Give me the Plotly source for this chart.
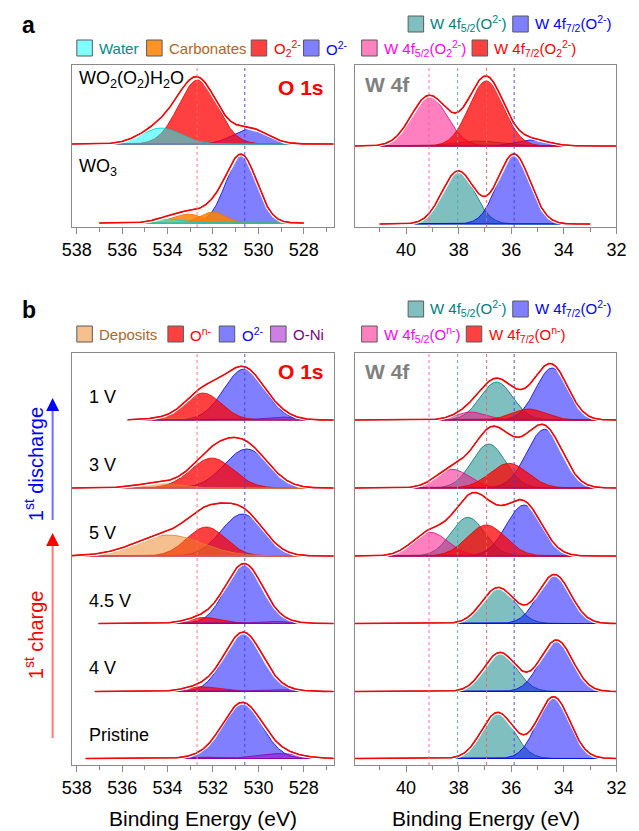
import numpy as np
import plotly.graph_objects as go

W_PX, H_PX = 639, 831
FONT = "Liberation Sans, Arial, sans-serif"

# ---------------- data ----------------
O1S_RANGE = [538.21, 526.69]
W4F_RANGE = [41.95, 32.0]
O1S_TICKS = [538, 536, 534, 532, 530, 528]
W4F_TICKS = [40, 38, 36, 34, 32]
O1S_GUIDES = [532.7, 530.6]
W4F_GUIDES = [39.13, 38.04, 36.94, 35.89]

# panel a -------------------------------------------------
A_LABELS = ["WO<sub>2</sub>(O<sub>2</sub>)H<sub>2</sub>O", "WO<sub>3</sub>"]
A_O1S_OFFSET = [83.0, 4.0]
A_O1S_START = [538.21, 537.0]
A_O1S_END = [526.69, 528.0]
A_O1S_OXIDE_C = [530.35, 530.75]
A_O1S_OXIDE_H = [15.0, 68.0]
A_O1S_OXIDE_W = [1.8, 1.6]
A_O1S_PEROXO_C = [532.67, 532.6]
A_O1S_PEROXO_H = [64.0, 0.0]
A_O1S_PEROXO_W = [2.0, 1.5]
A_O1S_CARB1_C = [532.0, 532.0]
A_O1S_CARB1_H = [0.0, 11.0]
A_O1S_CARB1_W = [1.4, 1.3]
A_O1S_CARB2_C = [533.1, 533.1]
A_O1S_CARB2_H = [0.0, 9.0]
A_O1S_CARB2_W = [1.5, 1.5]
A_O1S_WATER_C = [534.3, 534.0]
A_O1S_WATER_H = [16.0, 4.0]
A_O1S_WATER_W = [2.1, 1.5]

A_W4F_OFFSET = [81.0, 3.0]
A_W4F_START = [41.95, 41.0]
A_W4F_END = [32.0, 33.0]
A_W4F_T52_C = [37.3, 38.02]
A_W4F_T52_H = [5.0, 53.0]
A_W4F_T52_W = [2.0, 1.45]
A_W4F_T72_C = [35.2, 35.9]
A_W4F_T72_H = [6.0, 70.0]
A_W4F_T72_W = [1.5, 1.45]
A_W4F_P52_C = [39.13, 39.1]
A_W4F_P52_H = [50.0, 0.0]
A_W4F_P52_W = [1.6, 1.5]
A_W4F_P72_C = [36.95, 36.9]
A_W4F_P72_H = [65.0, 0.0]
A_W4F_P72_W = [1.55, 1.5]

# panel b -------------------------------------------------
B_LABELS = ["1 V", "3 V", "5 V", "4.5 V", "4 V", "Pristine"]
B_OFFSET = [345.0, 277.0, 209.0, 141.5, 73.5, 6.5]
B_O1S_START = [535.75, 538.21, 538.21, 537.03, 537.2, 537.6]
B_O1S_END = [526.69, 526.69, 526.69, 526.69, 526.69, 526.69]
B_O1S_OXIDE_C = [530.63, 530.52, 530.7, 530.63, 530.67, 530.73]
B_O1S_OXIDE_H = [51.0, 39.0, 42.0, 59.0, 58.7, 55.0]
B_O1S_OXIDE_W = [2.1, 2.3, 2.2, 1.9, 1.95, 2.05]
B_O1S_ON_C = [532.44, 532.05, 532.3, 532.4, 532.5, 532.6]
B_O1S_ON_H = [27.0, 30.0, 29.0, 6.0, 4.7, 1.5]
B_O1S_ON_W = [1.9, 2.2, 2.0, 1.8, 1.8, 1.6]
B_O1S_DEP_C = [534.2, 534.5, 533.97, 534.0, 534.0, 534.0]
B_O1S_DEP_H = [1.5, 4.5, 21.0, 0.0, 0.0, 0.0]
B_O1S_DEP_W = [2.0, 2.2, 3.5, 2.0, 2.0, 2.0]
B_O1S_ONI_C = [529.1, 529.2, 529.2, 529.3, 529.2, 529.1]
B_O1S_ONI_H = [3.0, 0.0, 0.0, 2.0, 2.0, 5.0]
B_O1S_ONI_W = [1.6, 1.6, 1.6, 2.0, 2.0, 2.2]

B_W4F_START = [41.95] * 6
B_W4F_END = [32.0] * 6
B_W4F_T52_C = [36.56, 36.86, 37.65, 36.5, 36.43, 36.52]
B_W4F_T52_H = [38.0, 44.0, 38.7, 36.0, 39.0, 46.0]
B_W4F_T52_W = [1.45, 1.5, 1.5, 1.45, 1.45, 1.45]
B_W4F_T72_C = [34.45, 34.73, 35.51, 34.36, 34.28, 34.39]
B_W4F_T72_H = [52.0, 58.7, 51.0, 49.0, 51.4, 61.7]
B_W4F_T72_W = [1.45, 1.6, 1.6, 1.45, 1.45, 1.45]
B_W4F_N52_C = [37.56, 38.24, 39.08, 37.6, 37.6, 37.6]
B_W4F_N52_H = [8.0, 18.7, 23.7, 0.0, 0.0, 0.0]
B_W4F_N52_W = [1.4, 1.5, 1.6, 1.4, 1.4, 1.4]
B_W4F_N72_C = [35.35, 36.09, 36.95, 35.4, 35.4, 35.4]
B_W4F_N72_H = [11.0, 24.7, 31.0, 0.0, 0.0, 0.0]
B_W4F_N72_W = [1.5, 1.7, 1.7, 1.5, 1.5, 1.5]

# ---------------- styles ----------------
BLUE = ("rgba(0,0,255,0.5)", "rgb(0,0,235)")
RED = ("rgba(255,0,0,0.75)", "rgb(225,0,0)")
CYAN = ("rgba(0,255,255,0.5)", "rgb(0,205,205)")
ORANGE = ("rgba(255,128,0,0.85)", "rgb(235,115,0)")
TEAL = ("rgba(0,128,128,0.5)", "rgb(0,115,115)")
PINK = ("rgba(255,0,128,0.5)", "rgb(235,0,120)")
DEPOSIT = ("rgba(235,128,30,0.5)", "rgb(225,125,45)")
PURPLE = ("rgba(153,0,204,0.5)", "rgb(130,0,185)")

fig = go.Figure()


def gauss(x, c, h, w):
    return h * np.exp(-4.0 * np.log(2.0) * (x - c) ** 2 / w ** 2)


def add_spectrum(xa, ya, start, end, offset, comps):
    x = np.linspace(start, end, 500)
    env = np.zeros_like(x)
    for c, h, w, style in comps:
        if h <= 0:
            continue
        g = gauss(x, c, h, w)
        env += g
        px = np.concatenate([x, x[::-1]])
        py = np.concatenate([offset + g, np.full_like(x, offset)])
        fig.add_trace(go.Scatter(x=px, y=py, mode="lines", fill="toself",
                                 fillcolor=style[0], line=dict(color=style[1], width=0.8),
                                 xaxis=xa, yaxis=ya, hoverinfo="skip", showlegend=False))
    fig.add_trace(go.Scatter(x=x, y=offset + env, mode="lines",
                             line=dict(color="white", width=4),
                             xaxis=xa, yaxis=ya, hoverinfo="skip", showlegend=False))
    fig.add_trace(go.Scatter(x=x, y=offset + env, mode="lines",
                             line=dict(color="rgb(35,35,35)", width=0.8),
                             xaxis=xa, yaxis=ya, hoverinfo="skip", showlegend=False))
    fig.add_trace(go.Scatter(x=x, y=offset + env, mode="lines",
                             line=dict(color="rgb(255,0,0)", width=1.6),
                             xaxis=xa, yaxis=ya, hoverinfo="skip", showlegend=False))


# panel a, O 1s
for i in range(len(A_LABELS)):
    add_spectrum("x", "y", A_O1S_START[i], A_O1S_END[i], A_O1S_OFFSET[i], [
        (A_O1S_OXIDE_C[i], A_O1S_OXIDE_H[i], A_O1S_OXIDE_W[i], BLUE),
        (A_O1S_PEROXO_C[i], A_O1S_PEROXO_H[i], A_O1S_PEROXO_W[i], RED),
        (A_O1S_CARB2_C[i], A_O1S_CARB2_H[i], A_O1S_CARB2_W[i], ORANGE),
        (A_O1S_CARB1_C[i], A_O1S_CARB1_H[i], A_O1S_CARB1_W[i], ORANGE),
        (A_O1S_WATER_C[i], A_O1S_WATER_H[i], A_O1S_WATER_W[i], CYAN),
    ])
# panel a, W 4f
for i in range(len(A_LABELS)):
    add_spectrum("x2", "y2", A_W4F_START[i], A_W4F_END[i], A_W4F_OFFSET[i], [
        (A_W4F_T52_C[i], A_W4F_T52_H[i], A_W4F_T52_W[i], TEAL),
        (A_W4F_T72_C[i], A_W4F_T72_H[i], A_W4F_T72_W[i], BLUE),
        (A_W4F_P52_C[i], A_W4F_P52_H[i], A_W4F_P52_W[i], PINK),
        (A_W4F_P72_C[i], A_W4F_P72_H[i], A_W4F_P72_W[i], RED),
    ])
# panel b, O 1s
for i in range(len(B_LABELS)):
    add_spectrum("x3", "y3", B_O1S_START[i], B_O1S_END[i], B_OFFSET[i], [
        (B_O1S_OXIDE_C[i], B_O1S_OXIDE_H[i], B_O1S_OXIDE_W[i], BLUE),
        (B_O1S_ON_C[i], B_O1S_ON_H[i], B_O1S_ON_W[i], RED),
        (B_O1S_DEP_C[i], B_O1S_DEP_H[i], B_O1S_DEP_W[i], DEPOSIT),
        (B_O1S_ONI_C[i], B_O1S_ONI_H[i], B_O1S_ONI_W[i], PURPLE),
    ])
# panel b, W 4f
for i in range(len(B_LABELS)):
    add_spectrum("x4", "y4", B_W4F_START[i], B_W4F_END[i], B_OFFSET[i], [
        (B_W4F_T52_C[i], B_W4F_T52_H[i], B_W4F_T52_W[i], TEAL),
        (B_W4F_T72_C[i], B_W4F_T72_H[i], B_W4F_T72_W[i], BLUE),
        (B_W4F_N52_C[i], B_W4F_N52_H[i], B_W4F_N52_W[i], PINK),
        (B_W4F_N72_C[i], B_W4F_N72_H[i], B_W4F_N72_W[i], RED),
    ])


# ---------------- layout helpers ----------------
def PX(v):
    return v / W_PX


def PY(v):
    return 1 - v / H_PX


O1S_DOM = [PX(64), PX(334)]
W4F_DOM = [PX(356), PX(626)]
A_DOM = [PY(227), PY(65)]
B_DOM = [PY(765), PY(353)]


def xaxis(dom, rng, ticks, anchor):
    return dict(domain=dom, range=rng, anchor=anchor, tickmode="array", tickvals=ticks,
                showline=True, mirror=True, linecolor="#8a8a8a", linewidth=1,
                ticks="outside", ticklen=6, tickwidth=1, tickcolor="#8a8a8a",
                tickfont=dict(size=18, color="black", family=FONT),
                minor=dict(tickmode="linear", tick0=0, dtick=1, ticks="outside",
                           ticklen=4, tickcolor="#8a8a8a", showgrid=False),
                showgrid=False, zeroline=False, fixedrange=True)


def yaxis(dom, rng, anchor):
    return dict(domain=dom, range=rng, anchor=anchor, showline=True, mirror=True,
                linecolor="#8a8a8a", linewidth=1, showticklabels=False, ticks="",
                showgrid=False, zeroline=False, fixedrange=True)


shapes = []
annotations = []

GUIDE_O1S_COLORS = ["rgba(255,110,110,0.9)", "rgba(60,60,255,0.9)"]
GUIDE_W4F_COLORS = ["rgba(255,90,170,0.9)", "rgba(70,170,170,0.9)",
                    "rgba(255,90,90,0.9)", "rgba(60,60,255,0.9)"]
for xr, yr in (("x", "y"), ("x3", "y3")):
    for e, col in zip(O1S_GUIDES, GUIDE_O1S_COLORS):
        shapes.append(dict(type="line", xref=xr, yref=yr + " domain", x0=e, x1=e, y0=0, y1=1,
                           line=dict(color=col, width=1, dash="dot"), layer="above"))
for xr, yr in (("x2", "y2"), ("x4", "y4")):
    for e, col in zip(W4F_GUIDES, GUIDE_W4F_COLORS):
        shapes.append(dict(type="line", xref=xr, yref=yr + " domain", x0=e, x1=e, y0=0, y1=1,
                           line=dict(color=col, width=1, dash="dot"), layer="above"))


def text(x, y, s, size=18, color="black", bold=False, xanchor="left", angle=0):
    if bold:
        s = "<b>" + s + "</b>"
    annotations.append(dict(x=PX(x), y=PY(y), xref="paper", yref="paper", text=s,
                            showarrow=False, xanchor=xanchor, yanchor="middle",
                            textangle=angle, font=dict(size=size, color=color, family=FONT)))


def legend_item(xs, yc, fill, label, color):
    shapes.append(dict(type="rect", xref="paper", yref="paper", x0=PX(xs), x1=PX(xs + 16),
                       y0=PY(yc + 8), y1=PY(yc - 8), fillcolor=fill,
                       line=dict(color="#5a5a5a", width=1)))
    text(xs + 21, yc, label, size=15, color=color)


# legends panel a
legend_item(411, 24, TEAL[0], "W 4f<sub>5/2</sub>(O<sup>2-</sup>)", "#008080")
legend_item(519, 24, BLUE[0], "W 4f<sub>7/2</sub>(O<sup>2-</sup>)", "#0000ff")
legend_item(69, 48, CYAN[0], "Water", "#008b8b")
legend_item(141, 48, ORANGE[0], "Carbonates", "#b5651d")
legend_item(249, 48, RED[0], "O<sub>2</sub><sup>2-</sup>", "#ff0000")
legend_item(303, 48, BLUE[0], "O<sup>2-</sup>", "#0000ff")
legend_item(363, 48, PINK[0], "W 4f<sub>5/2</sub>(O<sub>2</sub><sup>2-</sup>)", "#ff00ff")
legend_item(477, 48, RED[0], "W 4f<sub>7/2</sub>(O<sub>2</sub><sup>2-</sup>)", "#ff0000")
# legends panel b
legend_item(411, 309, TEAL[0], "W 4f<sub>5/2</sub>(O<sup>2-</sup>)", "#008080")
legend_item(519, 309, BLUE[0], "W 4f<sub>7/2</sub>(O<sup>2-</sup>)", "#0000ff")
legend_item(69, 334, DEPOSIT[0], "Deposits", "#b5651d")
legend_item(163, 334, RED[0], "O<sup>n-</sup>", "#ff0000")
legend_item(216, 334, BLUE[0], "O<sup>2-</sup>", "#0000ff")
legend_item(269, 334, PURPLE[0], "O-Ni", "#800080")
legend_item(363, 334, PINK[0], "W 4f<sub>5/2</sub>(O<sup>n-</sup>)", "#ff00ff")
legend_item(471, 334, RED[0], "W 4f<sub>7/2</sub>(O<sup>n-</sup>)", "#ff0000")

# panel letters and titles
text(10, 25, "a", size=23, bold=True)
text(10, 310, "b", size=23, bold=True)
text(326, 87, "O 1s", size=21, color="#ff0000", bold=True, xanchor="right")
text(326, 372, "O 1s", size=21, color="#ff0000", bold=True, xanchor="right")
text(364, 85, "W 4f", size=21, color="#808080", bold=True)
text(364, 371, "W 4f", size=21, color="#808080", bold=True)

# spectrum labels
for lab, yy in zip(A_LABELS, [80, 167]):
    text(69, yy, lab, size=18)
for lab, yy in zip(B_LABELS, [397, 465, 533, 601, 668, 735]):
    text(79, yy, lab, size=18)

# axis titles (panel b only)
text(199, 818, "Binding Energy (eV)", size=21, xanchor="center")
text(491, 818, "Binding Energy (eV)", size=21, xanchor="center")

# process annotations with arrows
text(24, 464, "1<sup>st</sup> discharge", size=20, color="#0000ff", xanchor="center", angle=-90)
text(24, 635, "1<sup>st</sup> charge", size=20, color="#ff0000", xanchor="center", angle=-90)
shapes.append(dict(type="line", xref="paper", yref="paper", x0=PX(44), x1=PX(44),
                   y0=PY(520), y1=PY(404), line=dict(color="rgba(110,110,255,1)", width=2)))
shapes.append(dict(type="line", xref="paper", yref="paper", x0=PX(44), x1=PX(44),
                   y0=PY(738), y1=PY(539), line=dict(color="rgba(255,120,120,1)", width=2)))
annotations.append(dict(x=PX(44), y=PY(398), xref="paper", yref="paper", text="",
                        showarrow=True, ax=0, ay=10, arrowhead=2, arrowsize=1.3,
                        arrowwidth=2, arrowcolor="#0000ff"))
annotations.append(dict(x=PX(44), y=PY(533), xref="paper", yref="paper", text="",
                        showarrow=True, ax=0, ay=10, arrowhead=2, arrowsize=1.3,
                        arrowwidth=2, arrowcolor="#ff0000"))

fig.update_layout(
    width=W_PX, height=H_PX, margin=dict(l=0, r=0, t=0, b=0),
    paper_bgcolor="white", plot_bgcolor="white", showlegend=False,
    font=dict(family=FONT),
    xaxis=xaxis(O1S_DOM, O1S_RANGE, O1S_TICKS, "y"),
    yaxis=yaxis(A_DOM, [0, 162], "x"),
    xaxis2=xaxis(W4F_DOM, W4F_RANGE, W4F_TICKS, "y2"),
    yaxis2=yaxis(A_DOM, [0, 162], "x2"),
    xaxis3=xaxis(O1S_DOM, O1S_RANGE, O1S_TICKS, "y3"),
    yaxis3=yaxis(B_DOM, [0, 412], "x3"),
    xaxis4=xaxis(W4F_DOM, W4F_RANGE, W4F_TICKS, "y4"),
    yaxis4=yaxis(B_DOM, [0, 412], "x4"),
    shapes=shapes, annotations=annotations,
)

fig.write_html("out.html", config={"displayModeBar": False},
               post_script="document.body.style.margin='0px';")
